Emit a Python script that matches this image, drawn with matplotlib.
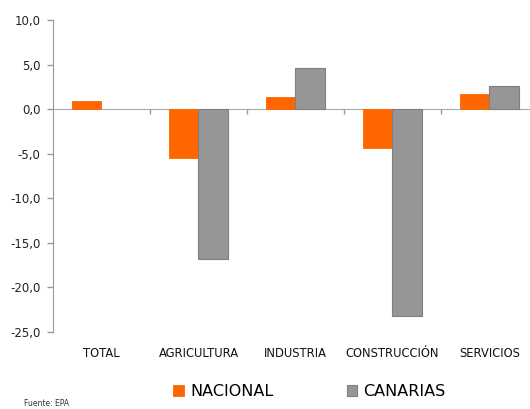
import matplotlib
matplotlib.use("Agg")
import matplotlib.pyplot as plt
import numpy as np

# datos
sectores = ["TOTAL", "AGRICULTURA", "INDUSTRIA", "CONSTRUCCIÓN", "SERVICIOS"]
nacional = [0.9, -5.5, 1.4, -4.35, 1.7]
canarias = [np.nan, -16.8, 4.6, -23.2, 2.55]
yticks = [10, 5, 0, -5, -10, -15, -20, -25]

naranja = "#FF6600"
gris = "#969696"

fig = plt.figure(figsize=(5.3, 4.09), dpi=100)
ax = fig.add_axes([0.1, 0.189, 0.915, 0.762])

x = np.arange(len(sectores))
w = 0.3
ax.bar(x - w / 2, nacional, w, color=naranja, edgecolor=naranja, linewidth=0.6,
       label="NACIONAL", zorder=2)
ax.bar(x + w / 2, canarias, w, color=gris, edgecolor="#7f7f7f", linewidth=0.8,
       label="CANARIAS", zorder=2)

ax.set_xlim(-0.5, len(sectores) - 0.5)
ax.set_ylim(-25, 10)
ax.set_yticks(yticks)
ax.set_yticklabels([f"{v:.1f}".replace(".", ",") for v in yticks], fontsize=8.5,
                   color="#222222")
ax.tick_params(axis="y", direction="out", length=4, color="#999999", width=1, pad=5)

# eje x en el cero, marcas entre grupos
ax.spines["bottom"].set_position(("data", 0))
ax.spines["bottom"].set_color("#aaaaaa")
ax.spines["bottom"].set_zorder(1)
ax.spines["left"].set_color("#999999")
ax.spines["top"].set_visible(False)
ax.spines["right"].set_visible(False)
ax.set_xticks(x[:-1] + 0.5)
ax.set_xticklabels([])
ax.tick_params(axis="x", direction="out", length=3.5, color="#999999", width=1)

trans = ax.get_xaxis_transform()
for xi, s in zip(x, sectores):
    ax.text(xi, -0.07, s, transform=trans, ha="center", va="center",
            fontsize=8.3, color="#111111")

fig.legend(loc="center", bbox_to_anchor=(0.584, 0.042), ncol=2, frameon=False,
           fontsize=11.5, handlelength=0.65, handleheight=0.65, handletextpad=0.4,
           columnspacing=4.6)

fig.text(0.045, 0.008, "Fuente: EPA", fontsize=5.5, color="#333333")

fig.savefig("out.png", dpi=100)
